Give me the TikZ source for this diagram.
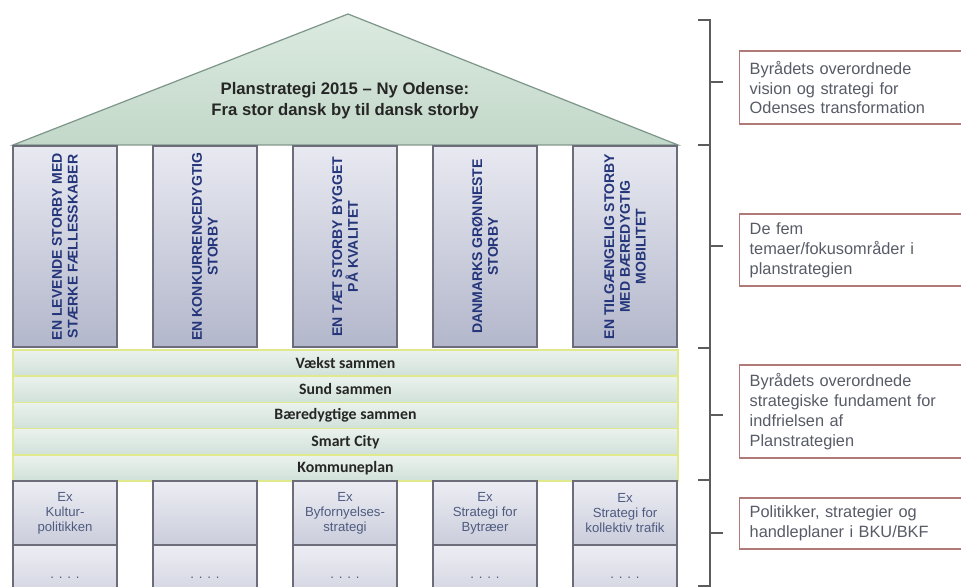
\documentclass[tikz,border=0pt]{standalone}
\usepackage{fontspec}
\setmainfont{Liberation Sans}
\newfontfamily\bandschrift{Carlito}
\usepackage{tikz}
\usetikzlibrary{positioning,calc}

\definecolor{dachoben}{HTML}{DCEAE0}
\definecolor{dachunten}{HTML}{C2D8C9}
\definecolor{dachrand}{HTML}{7F978B}
\definecolor{saeuleoben}{HTML}{E8E9F1}
\definecolor{saeuleunten}{HTML}{B3B7CB}
\definecolor{saeulerand}{HTML}{6C6C7A}
\definecolor{saeuletext}{HTML}{24357A}
\definecolor{bandoben}{HTML}{EBF2EE}
\definecolor{bandunten}{HTML}{D0E1D8}
\definecolor{bandrand}{HTML}{E0E98C}
\definecolor{fusstext}{HTML}{4F5B80}
\definecolor{kastenrand}{HTML}{B07A78}
\definecolor{kastentext}{HTML}{575B66}
\definecolor{klammerfarbe}{HTML}{5C5C5C}

\tikzset{
  saeule/.style={draw=saeulerand,line width=0.8pt,top color=saeuleoben,bottom color=saeuleunten,minimum width=2.08cm,minimum height=4.02cm,inner sep=0pt},
  saeulentext/.style={rotate=90,align=center,text=saeuletext,font=\bfseries\fontsize{8}{9}\selectfont},
  band/.style={draw=bandrand,line width=1pt,top color=bandoben,bottom color=bandunten,minimum width=13.3cm,minimum height=0.524cm,inner sep=0pt,text=black!85,font=\bandschrift\bfseries\fontsize{9}{10}\selectfont},
  fuss/.style={draw=saeulerand,line width=0.8pt,top color=saeuleoben!80!white,bottom color=saeuleunten!70!white,minimum width=2.08cm,inner sep=0pt,align=center,text=fusstext,font=\fontsize{7.5}{8.5}\selectfont},
  kasten/.style={draw=kastenrand,line width=0.8pt,anchor=west,text width=5.6cm,inner xsep=0.2cm,inner ysep=0pt,align=left,text=kastentext,font=\fontsize{9.3}{11.3}\selectfont},
  klammer/.style={draw=klammerfarbe,line width=0.7pt}
}

\begin{document}
\begin{tikzpicture}[x=0.02cm,y=-0.02cm]
\useasboundingbox (0,0) rectangle (961,587);
\clip (0,0) rectangle (961,587);
%Dach
\shade[top color=dachoben,bottom color=dachunten,draw=dachrand,line width=0.7pt] (13,145) -- (348,14) -- (678,145) -- cycle;
\node[align=center,text=black!85,font=\bfseries\fontsize{9.5}{12}\selectfont] (titel) at (345,101) {Planstrategi 2015 – Ny Odense:\\Fra stor dansk by til dansk storby};
%Saeulen
\foreach \i/\txt in {1/{EN LEVENDE STORBY MED\\STÆRKE FÆLLESSKABER},2/{EN KONKURRENCEDYGTIG\\STORBY},3/{EN TÆT STORBY BYGGET\\PÅ KVALITET},4/{DANMARKS GRØNNESTE\\STORBY},5/{EN TILGÆNGELIG STORBY\\MED BÆREDYGTIG\\MOBILITET}}{
\node[saeule] (s\i) at ({65+140*(\i-1)},246.5) {};
\node[saeulentext] (s\i text) at (s\i) {\txt};
}
%Fundament
\foreach \i/\txt in {1/Vækst sammen,2/Sund sammen,3/Bæredygtige sammen,4/Smart City,5/Kommuneplan}
\node[band] (b\i) at (345.5,{350+26.2*(\i-0.5)}) {\txt};
%Sockel
\foreach \i/\txt in {1/{Ex\\Kultur-\\politikken},2/{},3/{Ex\\Byfornyelses-\\strategi},4/{Ex\\Strategi for\\Bytræer},5/{Ex\\Strategi for\\kollektiv trafik}}{
\node[fuss,minimum height=1.28cm] (f\i) at ({65+140*(\i-1)},513) {\txt};
\node[fuss,minimum height=1.3cm] (p\i) at ({65+140*(\i-1)},577.5) {. . . .};
}
%Erklaerungen rechts
\node[kasten,minimum height=1.46cm] (k1) at (739,87.5) {Byrådets overordnede\\vision og strategi for\\Odenses transformation};
\node[kasten,minimum height=1.44cm] (k2) at (739,250) {De fem\\temaer/fokusområder i\\planstrategien};
\node[kasten,minimum height=1.86cm] (k3) at (739,411.5) {Byrådets overordnede\\strategiske fundament for\\indfrielsen af\\Planstrategien};
\node[kasten,minimum height=1.02cm] (k4) at (739,523.5) {Politikker, strategier og\\handleplaner i BKU/BKF};
\foreach \a/\m/\b in {20/82/145,145/246/348,348/415/480,480/533/586}
\draw[klammer] (698,\a) -- (710,\a) -- (710,\b) -- (698,\b) (710,\m) -- (723,\m);
\end{tikzpicture}
\end{document}
